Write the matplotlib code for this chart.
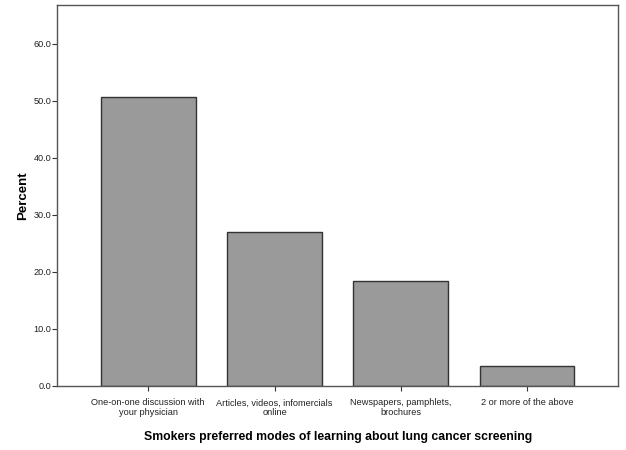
import matplotlib
matplotlib.use("Agg")
import matplotlib.pyplot as plt

categories = ["One-on-one discussion with\nyour physician",
              "Articles, videos, infomercials\nonline",
              "Newspapers, pamphlets,\nbrochures",
              "2 or more of the above"]
percent = [50.6, 27.0, 18.4, 3.5]
yticks = [0, 10, 20, 30, 40, 50, 60]

plt.rcParams['font.family'] = ['Liberation Sans', 'DejaVu Sans']

fig = plt.figure(figsize=(6.26, 4.5), dpi=100)
ax = fig.add_axes([57.3/626, 1-385.7/450, (618-57.3)/626, (385.7-5.3)/450])

x = list(range(len(categories)))
ax.bar(x, percent, width=0.75, color='#9a9a9a', edgecolor='#333333', linewidth=1.0, zorder=2)

ax.set_xlim(-0.72, 3.72)
ax.set_ylim(0, 66.7)
ax.set_yticks(yticks)
ax.set_yticklabels([f"{v:.1f}" for v in yticks], fontsize=6.6, color='#222222')
ax.set_xticks(x)
ax.set_xticklabels(categories, fontsize=6.6, color='#222222', linespacing=1.1)
ax.tick_params(axis='both', direction='out', length=3.6, width=0.8, color='#333333')
ax.tick_params(axis='x', pad=5.5)
ax.tick_params(axis='y', pad=0.8)

for s in ax.spines.values():
    s.set_color('#555555')
    s.set_linewidth(1.0)

ax.set_ylabel("Percent", fontsize=9.5, fontweight='bold', labelpad=3)
ax.set_xlabel("Smokers preferred modes of learning about lung cancer screening",
              fontsize=8.8, fontweight='bold', labelpad=10)

fig.savefig("out.png", dpi=100)
